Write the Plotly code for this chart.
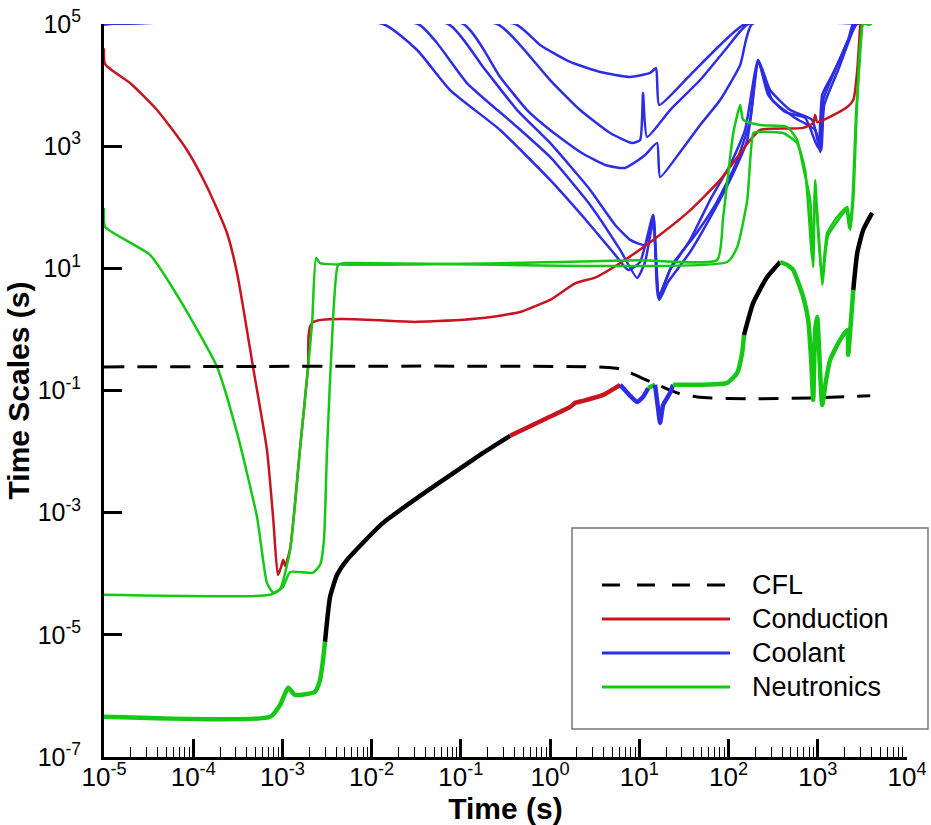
import plotly.graph_objects as go

# ---------------- data (time [s], time scale [s]) ----------------
cfl_t = [1e-5, 4.0, 6.1, 7.9, 14.3, 26.5, 44.5, 189, 822, 3870]
cfl_tau = [0.243, 0.24, 0.225, 0.194, 0.133, 0.0914, 0.0785, 0.073, 0.0757, 0.0817]

cond_t = [1e-5, 1.03e-5, 2e-5, 3.93e-5, 8.5e-5, 1.43e-4, 2.39e-4, 3.1e-4, 4.68e-4, 6.7e-4, 7.9e-4,
          8.9e-4, 9.6e-4, 1.02e-3, 1.07e-3, 1.22e-3, 1.57e-3, 1.94e-3, 2.15e-3, 0.0323, 0.177,
          0.461, 0.646, 1.0, 1.91, 3.3, 6.1, 14.3, 34.4, 80.5, 175, 226, 686, 888, 935, 985,
          2140, 2500, 2770, 2990]
cond_tau = [4.0e4, 2.2e4, 1.05e4, 3910, 867, 215, 37.9, 8.4, 0.243, 0.0107, 7.6e-4,
            9.6e-5, 1.25e-4, 1.69e-4, 1.35e-4, 2.6e-4, 0.0107, 0.243, 1.28, 1.33, 1.54,
            1.93, 2.33, 3.04, 5.67, 7.2, 12.2, 29.2, 80.7, 280, 1262, 1840, 1990, 2400, 3240, 2490,
            4390, 5700, 17700, 1e5]

neuA_t = [1e-5, 7.3e-4, 9.4e-4, 1.22e-3, 1.57e-3, 1.94e-3, 2.15e-3, 2.38e-3, 2.64e-3,
          10, 74.5, 87, 113, 135, 146, 226, 454, 587, 686, 822, 888, 935, 1010, 1120, 1275,
          1650, 2140, 2310, 2500, 2770, 3230, 4070]
neuA_tau = [4.52e-5, 4.52e-5, 5.6e-5, 2.46e-4, 0.0107, 0.243, 1.28, 14.8, 12.2,
            13.5, 13.7, 69, 1640, 4720, 2690, 2220, 2060, 1262, 457, 131, 10.5, 280, 37.9, 7.2, 37.9,
            69, 101, 42.5, 131, 5700, 1e5, 1e5]

neuB_t = [1e-5, 1.03e-5, 3.28e-5, 7.1e-5, 1.85e-4, 3.1e-4, 5.19e-4, 6.7e-4, 7.9e-4, 1.0e-3,
          1.22e-3, 2.2e-3, 2.64e-3, 2.92e-3, 3.16e-3, 3.7e-3, 4.2e-3, 5.0e-3,
          96.4, 125, 162, 189, 209, 409, 587, 720, 870, 935, 1035, 1120, 1300, 1700, 2090,
          2250, 2430, 2700, 3150]
neuB_tau = [97, 47.6, 16.6, 3.04, 0.243, 0.0202, 8.5e-4, 7.1e-5, 4.9e-5, 5.9e-5,
            1.07e-4, 1.04e-4, 1.4e-4, 3.6e-4, 0.0107, 1.6, 11.4, 12.2,
            12.7, 22.4, 131, 1640, 1710, 1640, 1120, 407, 13.7, 192, 29, 5.4, 34, 62, 90,
            45, 110, 3900, 1e5]

coolT_t = [1e-5, 0.406, 0.773, 1.68, 3.64, 7.9, 13.2, 15.4, 16.7, 37.1, 80.5, 153, 3870]
coolT_tau = [1e5, 1e5, 4.53e4, 2.39e4, 1.64e4, 1.36e4, 1.58e4, 1.9e4, 4.72e3, 1.46e4, 4.53e4, 1e5, 1e5]

coolU_t = [1e-5, 0.255, 0.461, 1.0, 2.17, 4.71, 8.3, 10.2, 11.0, 12.2, 22.1, 48, 91.6, 166, 3870]
coolU_tau = [1e5, 1e5, 4.53e4, 1.21e4, 3.9e3, 1.64e3, 1.13e3, 1.26e3, 7.4e3, 1.42e3, 3.9e3, 1.21e4,
             3.75e4, 1e5, 1e5]

coolV_t = [1e-5, 0.106, 0.275, 0.552, 1.0, 2.17, 4.14, 6.93, 11.6, 15.8, 17.1, 28.7, 48, 80.5,
           135, 184, 3870]
coolV_tau = [1e5, 1e5, 1.36e4, 3.9e3, 1.84e3, 804, 492, 440, 718, 1.13e3, 313, 804, 2.22e3, 5.7e3,
             2.13e4, 1e5, 1e5]

coolW_t = [1e-5, 0.072, 0.177, 0.427, 1.0, 2.81, 5.36, 7.9, 11.6, 14.3, 16.7, 22.1, 37.1, 62, 104,
           153, 215, 292, 491, 865, 1063, 1150, 1570, 2310, 2630, 3870]
coolW_tau = [1e5, 1e5, 1.98e4, 3.9e3, 1.13e3, 192, 51.3, 29.2, 24.1, 74.8, 3.67, 9.4, 29.2, 131, 492,
             1.84e3, 2.58e4, 8.3e3, 3.9e3, 2.69e3, 804, 5.7e3, 1.77e4, 6.6e4, 1e5, 1e5]

coolX_t = [1e-5, 0.0331, 0.054, 0.117, 0.427, 1.0, 2.81, 6.1, 9.45, 11.6, 14.3, 16.7, 21.0, 37.1, 62,
           104, 162, 215, 308, 558, 935, 1092, 1180, 1690, 2500, 2770, 3870]
coolX_tau = [1e5, 1e5, 4.89e4, 1.08e4, 2.06e3, 665, 109, 20, 6.97, 12.7, 57.5, 3.04, 5.98, 18.5, 66.8,
             280, 1.26e3, 2.39e4, 5.7e3, 2.9e3, 1.84e3, 867, 4.72e3, 1.77e4, 7.98e4, 1e5, 1e5]

coolY_t = [1e-5, 0.0134, 0.0323, 0.0757, 0.275, 1.0, 2.81, 5.36, 7.48, 10.2, 14.3, 16.3, 23.3, 42.3,
           70.8, 119, 175, 215, 278, 431, 723, 1010, 1120, 1450, 2190, 2500, 3870]
coolY_tau = [1e5, 1e5, 3.75e4, 8.3e3, 1.84e3, 280, 51.3, 16.6, 9.4, 12.7, 74.8, 3.28, 11.4, 35.2,
             109, 492, 2.69e3, 2.58e4, 6.9e3, 3.63e3, 2.9e3, 935, 6.9e3, 1.46e4, 5.47e4, 1e5, 1e5]

# minimum (controlling) time scale, coloured by the limiting physics
env_t = [1e-5, 7.3e-4, 9.4e-4, 1.16e-3, 1.38e-3, 2.32e-3, 2.64e-3, 2.85e-3, 3.0e-3,
         3.42e-3, 4.1e-3, 5.3e-3, 0.0134, 0.0488, 0.177, 0.356,
         0.835, 1.68, 1.91, 2.35, 3.93, 6.1,
         7.9, 9.45, 11.0, 12.6,
         15.0,
         16.3, 17.1, 18.5, 22.1, 23.9,
         96.4, 125, 142, 149,
         189, 271, 379,
         454, 530, 686, 780, 843, 888, 935, 985, 1035, 1120, 1240, 1375, 1780, 2140, 2190, 2370, 2500,
         2770, 3230, 4070]
env_tau = [4.55e-7, 4.55e-7, 7.1e-7, 1.36e-6, 1.04e-6, 1.17e-6, 1.83e-6, 3.9e-6, 7.7e-6,
           4.2e-5, 9.6e-5, 1.69e-4, 6.8e-4, 2.64e-3, 9.5e-3, 0.0181,
           0.033, 0.054, 0.0627, 0.0676, 0.0848, 0.124,
           0.0817, 0.065, 0.0785, 0.11,
           0.124,
           0.048, 0.0295, 0.058, 0.0914, 0.124,
           0.133, 0.194, 0.412, 0.81,
           2.72, 7.2, 12.7,
           11.4, 9.4, 3.4, 1.43, 0.317, 0.07, 0.98, 1.6, 0.461, 0.058, 0.149, 0.317, 0.673, 0.98, 0.383, 1.54, 4.43,
           17.9, 42.5, 80.7]
env_segments = [(0, 8, "Neutronics"), (8, 15, "CFL"), (15, 21, "Conduction"), (21, 25, "Coolant"),
                (25, 26, "Neutronics"), (26, 31, "Coolant"), (31, 35, "Neutronics"), (35, 38, "CFL"),
                (38, 55, "Neutronics"), (55, 58, "CFL")]

legend_names = ["CFL", "Conduction", "Coolant", "Neutronics"]
x_tick_exp = [-5, -4, -3, -2, -1, 0, 1, 2, 3, 4]
y_tick_exp = [-7, -5, -3, -1, 1, 3, 5]

# ---------------- styling ----------------
COL = {"CFL": "black", "Conduction": "#c8141e", "Coolant": "#2d2de6", "Neutronics": "#14c814"}
FONT = "Liberation Sans, Arial, Helvetica, sans-serif"
W, H = 931, 825
ML, MR, MT, MB = 104, 24, 24, 68

fig = go.Figure()

def add_line(x, y, name, width=2.5, dash=None, smooth=0.6):
    fig.add_trace(go.Scatter(x=x, y=y, mode="lines", name=name, showlegend=False,
                             line=dict(color=COL[name], width=width, dash=dash,
                                       shape="spline", smoothing=smooth)))

for cx, cy in [(coolT_t, coolT_tau), (coolU_t, coolU_tau), (coolV_t, coolV_tau),
               (coolW_t, coolW_tau), (coolX_t, coolX_tau), (coolY_t, coolY_tau)]:
    add_line(cx, cy, "Coolant", 2.5, smooth=0.5)
add_line(cond_t, cond_tau, "Conduction", 2.5, smooth=0.6)
add_line(neuA_t, neuA_tau, "Neutronics", 2.5, smooth=0.5)
add_line(neuB_t, neuB_tau, "Neutronics", 2.5, smooth=0.5)
add_line(cfl_t, cfl_tau, "CFL", 3, dash="20px,13px", smooth=0.8)
for i0, i1, who in env_segments:
    add_line(env_t[i0:i1 + 1], env_tau[i0:i1 + 1], who, 4.5, smooth=0.5)

fig.update_xaxes(type="log", range=[-5, 4], automargin=False, ticklabeloverflow="allow",
                 tickvals=[10.0 ** e for e in x_tick_exp],
                 ticktext=["10<sup>%d</sup>" % e for e in x_tick_exp],
                 ticks="inside", ticklen=18, tickwidth=3, tickcolor="black",
                 minor=dict(ticks="inside", ticklen=10, tickwidth=1.3, tickcolor="black", dtick="D1",
                            showgrid=False),
                 showline=True, linewidth=3, linecolor="black", mirror=False,
                 showgrid=False, zeroline=False,
                 tickfont=dict(family=FONT, size=26, color="black"),
                 ticklabelstandoff=-5,
                 title=dict(text="<b>Time (s)</b>", font=dict(family=FONT, size=30, color="black"),
                            standoff=0))
fig.update_yaxes(type="log", range=[-7, 5], automargin=False, ticklabeloverflow="allow",
                 tickvals=[10.0 ** e for e in y_tick_exp],
                 ticktext=["10<sup>%d</sup>" % e for e in y_tick_exp],
                 ticks="inside", ticklen=18, tickwidth=3, tickcolor="black",
                 showline=True, linewidth=3, linecolor="black", mirror=False,
                 showgrid=False, zeroline=False,
                 tickfont=dict(family=FONT, size=25, color="black"),
                 ticklabelstandoff=15,
                 title=dict(text="<b>Time Scales (s)</b>", font=dict(family=FONT, size=30, color="black"),
                            standoff=0))

# hand-drawn legend box (long line samples as in the original); positions in screen pixels
pw, ph = W - ML - MR, H - MT - MB
def px_x(p):
    return (p - ML) / pw
def px_y(p):
    return (H - MB - p) / ph

shapes = [dict(type="rect", xref="paper", yref="paper", x0=px_x(572), x1=px_x(928),
               y0=px_y(729), y1=px_y(528), line=dict(color="#777777", width=1.5),
               fillcolor="white", layer="above")]
annotations = []
rows = [585, 619, 653, 687]
for name, ry in zip(legend_names, rows):
    shapes.append(dict(type="line", xref="paper", yref="paper", x0=px_x(602), x1=px_x(730),
                       y0=px_y(ry), y1=px_y(ry), layer="above",
                       line=dict(color=COL[name], width=3,
                                 dash="18px,17px" if name == "CFL" else "solid")))
    annotations.append(dict(xref="paper", yref="paper", x=px_x(750), y=px_y(ry), text=name,
                            showarrow=False, xanchor="left", yanchor="middle",
                            font=dict(family=FONT, size=27, color="black")))

fig.update_layout(width=W, height=H, margin=dict(l=ML, r=MR, t=MT, b=MB),
                  paper_bgcolor="white", plot_bgcolor="white", showlegend=False,
                  shapes=shapes, annotations=annotations)

# remove the browser's default 8px page margin so the figure fills the window exactly
fig.write_html("out.html", config={"displayModeBar": False},
               post_script="document.body.style.margin='0px';")
